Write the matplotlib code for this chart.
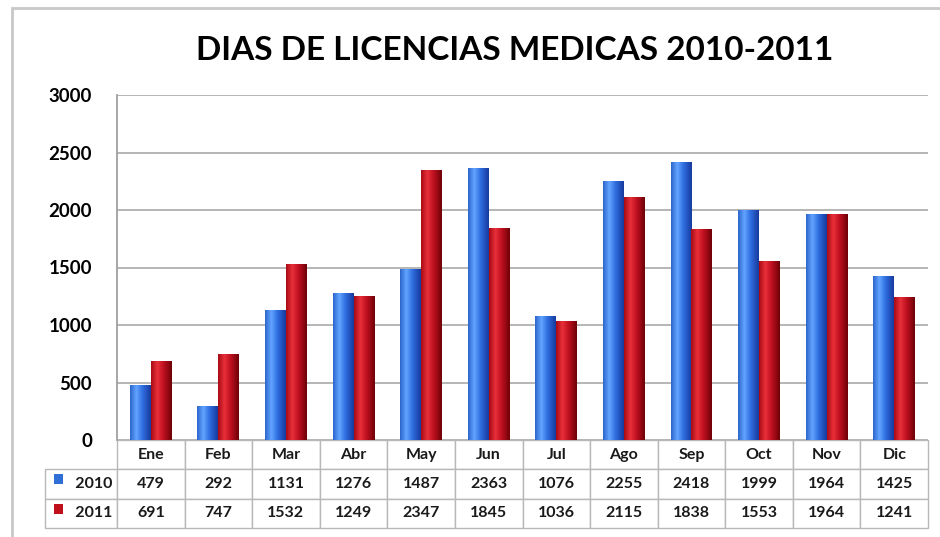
import matplotlib.pyplot as plt
import numpy as np
from matplotlib.colors import LinearSegmentedColormap
from matplotlib.patches import Rectangle

# data
months = ['Ene', 'Feb', 'Mar', 'Abr', 'May', 'Jun', 'Jul', 'Ago', 'Sep', 'Oct', 'Nov', 'Dic']
dias_2010 = [479, 292, 1131, 1276, 1487, 2363, 1076, 2255, 2418, 1999, 1964, 1425]
dias_2011 = [691, 747, 1532, 1249, 2347, 1845, 1036, 2115, 1838, 1553, 1964, 1241]
series_names = ['2010', '2011']

plt.rcParams['font.family'] = ['Lato', 'DejaVu Sans']

fig = plt.figure(figsize=(9.4, 5.37), dpi=100)
ax = fig.add_axes([117 / 940, 97 / 537, 811 / 940, 345 / 537])

# cylinder-ish shading for each series
blue_cmap = LinearSegmentedColormap.from_list(
    'b', [(0, '#2c66cc'), (0.3, '#62a4ff'), (0.6, '#2f6ee0'), (1, '#173a9e')])
red_cmap = LinearSegmentedColormap.from_list(
    'r', [(0, '#a80a14'), (0.3, '#e8303a'), (0.6, '#c01020'), (1, '#6e0208')])
grad = np.linspace(0, 1, 64).reshape(1, -1)

x = np.arange(len(months))
w = 0.31
for vals, off, cmap in [(dias_2010, -w / 2, blue_cmap), (dias_2011, w / 2, red_cmap)]:
    bars = ax.bar(x + off, vals, width=w, color='none', edgecolor='none', zorder=3)
    for b in bars:
        x0, y0 = b.get_x(), b.get_y()
        img = ax.imshow(grad, cmap=cmap, aspect='auto', zorder=3,
                        extent=[x0, x0 + b.get_width(), y0, y0 + b.get_height()])
        img.set_clip_path(b)

ax.set_xlim(-0.5, len(months) - 0.5)
ax.set_ylim(0, 3000)
ax.set_yticks(np.arange(0, 3001, 500))
ax.yaxis.grid(True, color='#b0b0b0', linewidth=1.3)
ax.set_axisbelow(True)
ax.set_xticks([])
ax.tick_params(axis='y', length=0, pad=18, labelsize=13.5)
for lab in ax.get_yticklabels():
    lab.set_fontweight('bold')
for s in ['top', 'right', 'bottom']:
    ax.spines[s].set_visible(False)
ax.spines['left'].set_color('#a0a0a0')
ax.spines['left'].set_linewidth(1.3)

# data table under the plot (bbox covers the month columns only)
cell_text = [[str(v) for v in dias_2010], [str(v) for v in dias_2011]]
tbl = ax.table(cellText=cell_text, rowLabels=['      ' + n for n in series_names],
               colLabels=months, cellLoc='center', rowLoc='left',
               colWidths=[1 / 12] * 12,
               bbox=[0, -88 / 345, 1, 88 / 345])
tbl.auto_set_font_size(False)
for (r, c), cell in tbl.get_celld().items():
    if c == -1:
        cell.set_width(72 / 811)
    cell.set_edgecolor('#b8b8b8')
    cell.set_linewidth(1.0)
    cell.get_text().set_fontsize(11.5)
    cell.get_text().set_fontweight('bold')
    cell.get_text().set_color('#1a1a1a')

# legend keys inside the row labels
for i, col in enumerate(['#2f6fd6', '#c0101c']):
    ax.add_patch(Rectangle((-63 / 811, (-44 - i * 30) / 345), 9 / 811, 10 / 345,
                           transform=ax.transAxes, facecolor=col, edgecolor='none',
                           clip_on=False, zorder=5))

fig.text(515 / 940, 1 - 50 / 537, 'DIAS DE LICENCIAS MEDICAS 2010-2011',
         ha='center', va='center', fontsize=24, fontweight='bold')

# outer chart frame
fig.patches.append(Rectangle((12 / 940, -0.05), 1.1, 1 - 8 / 537 + 0.05,
                             transform=fig.transFigure, fill=False,
                             edgecolor='#c8c8c8', linewidth=2))

fig.savefig('out.png', dpi=100)
